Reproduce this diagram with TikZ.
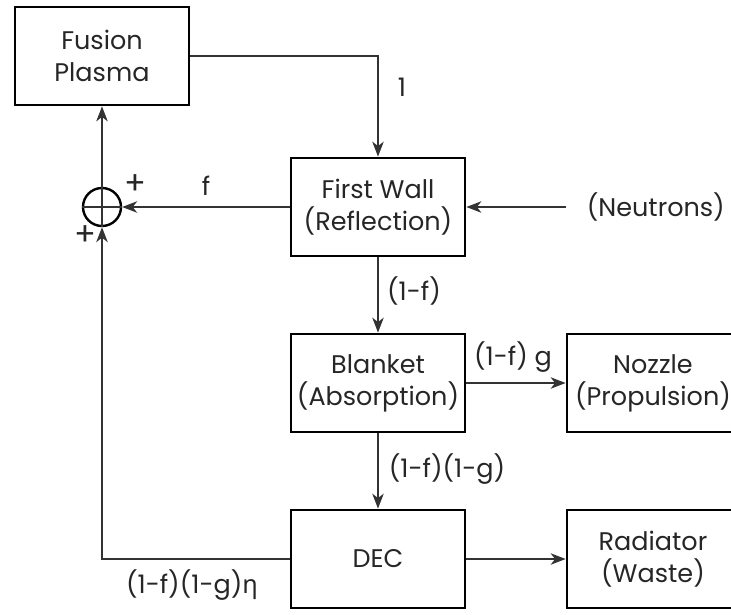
\documentclass[tikz,border=0pt]{standalone}
\usepackage{fontspec}
\setmainfont{Poppins}
\newfontfamily\grk{Noto Sans}
\usetikzlibrary{arrows.meta}
\begin{document}
\begin{tikzpicture}[x=1pt,y=-1pt,
  font=\fontsize{25.5}{32}\selectfont,
  block/.style={draw, line width=2.8pt, minimum width=174pt, minimum height=98pt,
    align=center, inner sep=0pt, text=black!85},
  flow/.style={line width=1.2pt, draw=black!80},
  tip/.style={-{Stealth[length=15pt,width=11.5pt,inset=4.5pt]}},
  lbl/.style={inner sep=0pt, text=black!85},
  sign/.style={lbl, font=\fontsize{32}{32}\selectfont},
  junction/.style={draw, circle, line width=2.4pt, minimum size=38pt, inner sep=0pt}]
\useasboundingbox (0,0) rectangle (731,614);
\begin{scope}
\clip (0,0) rectangle (731,614);
% blocks
\node[block] (plasma) at (102,56) {Fusion\\Plasma};
\node[block] (wall) at (378,207) {First Wall\\(Reflection)};
\node[block] (blanket) at (378,383) {Blanket\\(Absorption)};
\node[block, minimum width=172pt] (nozzle) at (653,383) {Nozzle\\(Propulsion)};
\node[block] (dec) at (378,559) {DEC};
\node[block, minimum width=172pt] (radiator) at (653,559) {Radiator\\(Waste)};
\node[junction] (sum) at (102,207) {};
\coordinate (neutron) at (566,207);
\node[lbl, anchor=east] (neutronlbl) at (725,207) {(Neutrons)};
% summing cross
\draw[flow] (sum.west) -- (sum.east);
\draw[flow] (sum.north) -- (sum.south);
% connectors
\draw[flow, tip] (plasma.east) -| (wall.north);
\draw[flow, tip] (neutron) -- (wall.east);
\draw[flow, tip] (wall.west) -- (sum.east);
\draw[flow, tip] (sum.north) -- (plasma.south);
\draw[flow, tip] (wall.south) -- (blanket.north);
\draw[flow, tip] (blanket.east) -- (nozzle.west);
\draw[flow, tip] (blanket.south) -- (dec.north);
\draw[flow, tip] (dec.east) -- (radiator.west);
\draw[flow, tip] (dec.west) -| (sum.south);
% labels
\node[lbl] (l1) at (402,87) {1};
\node[lbl] (lf) at (206,186) {f};
\node[sign] (lp1) at (135,185) {+};
\node[sign] (lp2) at (85,236) {+};
\node[lbl] (l1f) at (414,291) {(1-f)};
\node[lbl] (l1fg) at (513,357) {(1-f) g};
\node[lbl] (l1f1g) at (447,469) {(1-f)(1-g)};
\node[lbl] (leta) at (192,585) {(1-f)(1-g){\grk η}};
\end{scope}
\end{tikzpicture}
\end{document}
